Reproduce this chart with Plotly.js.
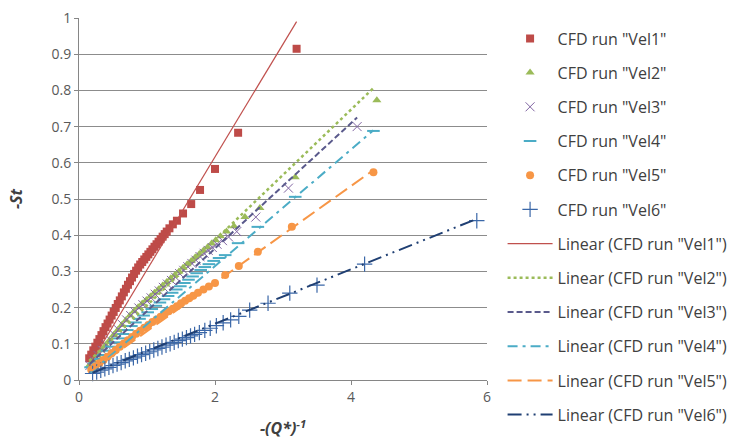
<!DOCTYPE html>
<html>
<head>
<meta charset="utf-8">
<script src="https://cdn.plot.ly/plotly-3.0.1.min.js"></script>
<style>html,body{margin:0;padding:0;background:#fff;}#chart{width:738px;height:448px;}</style>
</head>
<body>
<div id="chart"></div>
<script>
// ---- data ----
var vel1X = [0.15,0.18,0.21,0.24,0.27,0.30,0.33,0.36,0.39,0.42,0.45,0.48,0.51,0.54,0.57,0.60,0.63,0.66,0.69,0.72,0.75,0.78,0.81,0.84,0.87,0.90,0.93,0.96,0.99,1.02,1.05,1.08,1.11,1.14,1.17,1.20,1.23,1.26,1.29,1.33,1.38,1.44,1.53,1.65,1.78,2.00,2.34,3.20];
var vel1Y = [0.060,0.070,0.082,0.092,0.103,0.113,0.124,0.135,0.146,0.156,0.167,0.178,0.188,0.199,0.210,0.220,0.231,0.242,0.252,0.263,0.273,0.283,0.293,0.302,0.311,0.319,0.326,0.333,0.340,0.347,0.354,0.361,0.368,0.375,0.382,0.389,0.396,0.403,0.410,0.419,0.430,0.440,0.460,0.486,0.525,0.583,0.683,0.915];

var vel2X = [0.15,0.21,0.27,0.33,0.39,0.45,0.51,0.57,0.63,0.69,0.75,0.81,0.87,0.93,0.99,1.05,1.11,1.17,1.23,1.29,1.35,1.41,1.47,1.53,1.59,1.65,1.71,1.77,1.83,1.89,1.95,2.01,2.08,2.17,2.28,2.44,2.66,3.18,4.38];
var vel2Y = [0.040,0.054,0.068,0.082,0.096,0.110,0.124,0.138,0.152,0.165,0.178,0.190,0.201,0.211,0.221,0.231,0.241,0.251,0.261,0.271,0.281,0.290,0.300,0.310,0.320,0.329,0.339,0.348,0.358,0.367,0.377,0.386,0.397,0.410,0.425,0.450,0.475,0.560,0.773];

var vel3X = [0.16,0.22,0.28,0.34,0.40,0.46,0.52,0.58,0.64,0.70,0.76,0.82,0.88,0.94,1.00,1.06,1.12,1.18,1.24,1.30,1.36,1.42,1.48,1.54,1.60,1.66,1.72,1.78,1.84,1.90,1.96,2.03,2.11,2.20,2.32,2.60,3.08,4.09];
var vel3Y = [0.040,0.054,0.068,0.082,0.097,0.111,0.125,0.139,0.153,0.166,0.178,0.189,0.199,0.208,0.218,0.227,0.237,0.246,0.256,0.265,0.275,0.284,0.294,0.303,0.313,0.322,0.331,0.341,0.350,0.358,0.366,0.375,0.385,0.395,0.410,0.450,0.530,0.700];

var vel4X = [0.17,0.23,0.29,0.35,0.41,0.47,0.53,0.59,0.65,0.71,0.77,0.83,0.89,0.95,1.01,1.07,1.13,1.19,1.25,1.31,1.37,1.43,1.49,1.55,1.61,1.67,1.73,1.79,1.85,1.91,1.98,2.06,2.15,2.34,2.63,3.18,4.33];
var vel4Y = [0.035,0.046,0.058,0.069,0.081,0.092,0.104,0.115,0.127,0.138,0.149,0.159,0.169,0.178,0.187,0.196,0.205,0.214,0.223,0.232,0.241,0.250,0.259,0.268,0.277,0.286,0.295,0.304,0.312,0.320,0.329,0.337,0.345,0.378,0.423,0.506,0.688];

var vel5X = [0.18,0.24,0.30,0.36,0.42,0.48,0.54,0.60,0.66,0.72,0.78,0.84,0.90,0.96,1.02,1.08,1.14,1.20,1.26,1.32,1.38,1.44,1.50,1.56,1.62,1.68,1.75,1.83,1.91,2.00,2.15,2.35,2.63,3.13,4.33];
var vel5Y = [0.028,0.037,0.046,0.055,0.064,0.074,0.083,0.092,0.101,0.110,0.119,0.128,0.136,0.144,0.152,0.160,0.167,0.175,0.182,0.190,0.197,0.204,0.212,0.219,0.226,0.233,0.241,0.250,0.258,0.268,0.290,0.315,0.354,0.423,0.574];

var vel6X = [0.20,0.26,0.32,0.38,0.44,0.50,0.56,0.62,0.68,0.74,0.80,0.86,0.92,0.98,1.04,1.10,1.16,1.22,1.28,1.34,1.40,1.46,1.52,1.58,1.64,1.70,1.77,1.85,1.93,2.02,2.12,2.23,2.35,2.51,2.78,3.10,3.50,4.20,5.85];
var vel6Y = [0.018,0.022,0.027,0.031,0.035,0.040,0.044,0.048,0.053,0.057,0.061,0.066,0.070,0.074,0.078,0.083,0.087,0.091,0.096,0.100,0.104,0.109,0.113,0.117,0.122,0.126,0.131,0.137,0.143,0.150,0.158,0.166,0.176,0.193,0.212,0.240,0.262,0.320,0.440];

// linear trendline end points
var trend1X = [0.15, 3.20], trend1Y = [0.040, 0.990];
var trend2X = [0.15, 4.35], trend2Y = [0.053, 0.810];
var trend3X = [0.16, 4.09], trend3Y = [0.045, 0.725];
var trend4X = [0.17, 4.33], trend4Y = [0.020, 0.690];
var trend5X = [0.18, 4.33], trend5Y = [0.025, 0.580];
var trend6X = [0.20, 5.85], trend6Y = [0.020, 0.445];

var seriesNames = ['CFD run "Vel1"','CFD run "Vel2"','CFD run "Vel3"','CFD run "Vel4"','CFD run "Vel5"','CFD run "Vel6"'];
var xTicks = [0, 2, 4, 6];
var yTicks = [0,0.1,0.2,0.3,0.4,0.5,0.6,0.7,0.8,0.9,1];
var yTickText = ['0','0.1','0.2','0.3','0.4','0.5','0.6','0.7','0.8','0.9','1'];

// ---- styles ----
var cRed = '#BE4B48', cGreen = '#9BBB59', cPurple = '#8064A2', cCyan = '#4BACC6', cOrange = '#F79646', cBlue = '#3A67A8';

var traces = [
  {x: vel1X, y: vel1Y, name: seriesNames[0], mode: 'markers', marker: {symbol: 'square', size: 8, color: cRed}},
  {x: vel2X, y: vel2Y, name: seriesNames[1], mode: 'markers', marker: {symbol: 'triangle-up', size: 8, color: cGreen}},
  {x: vel3X, y: vel3Y, name: seriesNames[2], mode: 'markers', marker: {symbol: 'x-thin-open', size: 9, color: cPurple, line: {color: cPurple, width: 1}}},
  {x: vel4X, y: vel4Y, name: seriesNames[3], mode: 'markers', marker: {symbol: 'line-ew-open', size: 9, color: cCyan, line: {color: cCyan, width: 2}}},
  {x: vel5X, y: vel5Y, name: seriesNames[4], mode: 'markers', marker: {symbol: 'circle', size: 8, color: cOrange}},
  {x: vel6X, y: vel6Y, name: seriesNames[5], mode: 'markers', marker: {symbol: 'cross-thin-open', size: 11, color: cBlue, line: {color: cBlue, width: 1.2}}},
  {x: trend1X, y: trend1Y, name: 'Linear (' + seriesNames[0] + ')', mode: 'lines', line: {color: '#C0504D', width: 1.2}},
  {x: trend2X, y: trend2Y, name: 'Linear (' + seriesNames[1] + ')', mode: 'lines', line: {color: cGreen, width: 2.5, dash: 'dot'}},
  {x: trend3X, y: trend3Y, name: 'Linear (' + seriesNames[2] + ')', mode: 'lines', line: {color: '#5A5A8C', width: 2, dash: '6px,3px'}},
  {x: trend4X, y: trend4Y, name: 'Linear (' + seriesNames[3] + ')', mode: 'lines', line: {color: cCyan, width: 2, dash: '10px,5px,3px,5px'}},
  {x: trend5X, y: trend5Y, name: 'Linear (' + seriesNames[4] + ')', mode: 'lines', line: {color: cOrange, width: 2, dash: '14px,6px'}},
  {x: trend6X, y: trend6Y, name: 'Linear (' + seriesNames[5] + ')', mode: 'lines', line: {color: '#1F3F73', width: 2, dash: '14px,5px,2px,5px,2px,5px'}}
];
traces.forEach(function (t, i) { t.legendgroup = 'g' + i; t.type = 'scatter'; t.cliponaxis = false; });

var axisFont = {family: 'Open Sans, sans-serif', size: 14, color: '#595959'};

var layout = {
  width: 738, height: 448,
  margin: {l: 79, r: 251, t: 18, b: 68},
  paper_bgcolor: '#ffffff', plot_bgcolor: '#ffffff',
  showlegend: true,
  legend: {
    xref: 'container', yref: 'container',
    x: 0.681, y: 0.952, xanchor: 'left', yanchor: 'top',
    font: {family: 'Open Sans, sans-serif', size: 16, color: '#404040'},
    tracegroupgap: 10.4, itemwidth: 45, bgcolor: 'rgba(0,0,0,0)',
    maxheight: 446
  },
  xaxis: {
    range: [0, 6], tickmode: 'array', tickvals: xTicks, ticktext: xTicks.map(String),
    showgrid: false, zeroline: false, showline: true, linecolor: '#868686', linewidth: 1,
    ticks: 'outside', ticklen: 4, tickcolor: '#868686', tickfont: axisFont,
    title: {text: '<b><i>-(Q*)<sup>-1</sup></i></b>', font: {family: 'Open Sans, sans-serif', size: 16, color: '#404040'}, standoff: 18}
  },
  yaxis: {
    range: [0, 1], tickmode: 'array', tickvals: yTicks, ticktext: yTickText,
    showgrid: true, gridcolor: '#8C8C8C', gridwidth: 1, zeroline: false,
    showline: true, linecolor: '#868686', linewidth: 1,
    ticks: 'outside', ticklen: 4, tickcolor: '#868686', tickfont: axisFont,
    title: {text: '<b><i>-St</i></b>', font: {family: 'Open Sans, sans-serif', size: 16, color: '#404040'}, standoff: 24}
  }
};

Plotly.newPlot('chart', traces, layout, {displayModeBar: false, staticPlot: true});
</script>
</body>
</html>
